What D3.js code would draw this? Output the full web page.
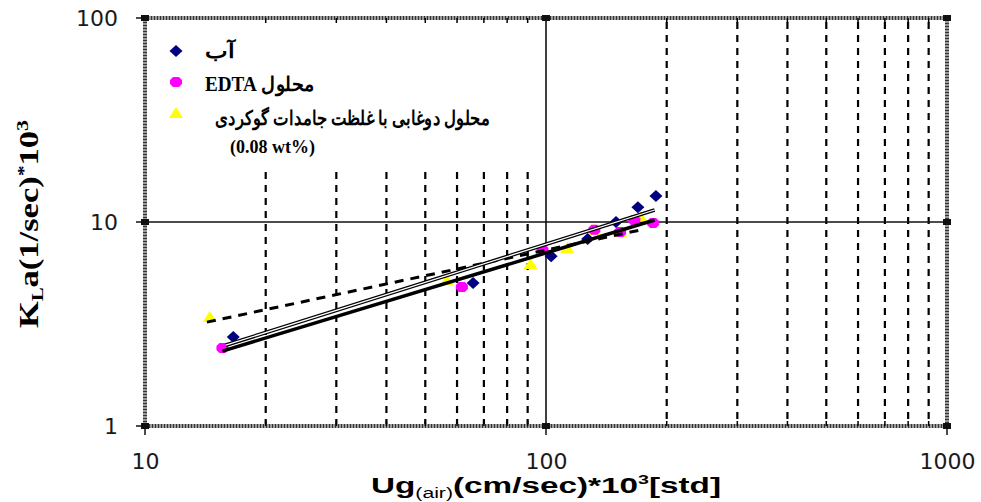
<!DOCTYPE html>
<html>
<head>
<meta charset="utf-8">
<script src="https://cdn.jsdelivr.net/npm/d3@7"></script>
<style>
  html, body { margin: 0; padding: 0; background: #fff; }
  svg { display: block; }
</style>
</head>
<body>
<svg id="chart" width="981" height="502"></svg>
<script>
// Volumetric mass-transfer coefficient vs. superficial gas velocity
const waterX  = [16.6, 65.8, 103, 127, 149.5, 169.5, 188];
const waterY  = [2.73, 5.02, 6.8, 8.26, 10.0, 11.8, 13.4];
const edtaX   = [15.6, 61.7, 98, 132, 153, 166, 185];
const edtaY   = [2.41, 4.8, 7.3, 9.15, 8.93, 10.2, 9.9];
const slurryX = [14.5, 56.6, 91.5, 113, 132, 153, 172];
const slurryY = [3.42, 5.2, 6.22, 7.46, 9.1, 8.9, 10.6];

// power-law trend lines (end points)
const waterTrendX  = [15.9, 186.6];
const waterTrendY  = [2.49, 11.45];
const edtaTrendX   = [15.6, 186.6];
const edtaTrendY   = [2.33, 10.23];
const slurryTrendX = [14.27, 172];
const slurryTrendY = [3.23, 9.14];

const xTicks = [10, 100, 1000];
const yTicks = [1, 10, 100];
const xMinor = [20, 30, 40, 50, 60, 70, 80, 90, 200, 300, 400, 500, 600, 700, 800, 900];

const legendLabels = ["آب", "محلول EDTA", "محلول دوغابی با غلظت جامدات گوکردی"];
const legendNote = "(0.08 wt%)";

const svg = d3.select("#chart");
const L = 145, R = 947, T = 18, B = 426;
const x = d3.scaleLog().domain([10, 1000]).range([L, R]);
const y = d3.scaleLog().domain([1, 100]).range([B, T]);
const legendBottom = 172;
const legendRight = 540;

// minor vertical dashed grid
svg.append("g").selectAll("line").data(xMinor).join("line")
  .attr("x1", d => x(d)).attr("x2", d => x(d))
  .attr("y1", d => (x(d) < legendRight ? legendBottom : T + 4))
  .attr("y2", B)
  .attr("stroke", "#000").attr("stroke-width", 2.2)
  .attr("stroke-dasharray", "7,6");

// major grid lines
svg.append("line").attr("x1", x(100)).attr("x2", x(100)).attr("y1", T).attr("y2", B)
  .attr("stroke", "#111").attr("stroke-width", 1.6);
svg.append("line").attr("x1", L).attr("x2", R).attr("y1", y(10)).attr("y2", y(10))
  .attr("stroke", "#111").attr("stroke-width", 1.6);

// plot frame
svg.append("rect").attr("x", L).attr("y", T).attr("width", R - L).attr("height", B - T)
  .attr("fill", "none").attr("stroke", "#9a9a9a").attr("stroke-width", 4);
svg.append("rect").attr("x", L).attr("y", T).attr("width", R - L).attr("height", B - T)
  .attr("fill", "none").attr("stroke", "#333").attr("stroke-width", 4)
  .attr("stroke-dasharray", "1,2");

// small ticks on top / bottom frame
const tk = svg.append("g");
tk.selectAll(".tt").data(xMinor).join("line")
  .attr("x1", d => x(d)).attr("x2", d => x(d)).attr("y1", T).attr("y2", T + 5)
  .attr("stroke", "#000").attr("stroke-width", 1.5);
tk.selectAll(".bt").data(xMinor).join("line").attr("class", "bt")
  .attr("x1", d => x(d)).attr("x2", d => x(d)).attr("y1", B - 5).attr("y2", B)
  .attr("stroke", "#000").attr("stroke-width", 1.5);

// corner / major tick blocks
const blocks = [];
xTicks.forEach(v => { blocks.push([x(v), T]); blocks.push([x(v), B]); });
yTicks.forEach(v => { blocks.push([L, y(v)]); blocks.push([R, y(v)]); });
svg.append("g").selectAll("rect").data(blocks).join("rect")
  .attr("x", d => d[0] - 4).attr("y", d => d[1] - 3)
  .attr("width", 8).attr("height", 6).attr("fill", "#111");
svg.append("g").selectAll("line").data(xTicks).join("line")
  .attr("x1", d => x(d)).attr("x2", d => x(d)).attr("y1", B).attr("y2", B + 9)
  .attr("stroke", "#111").attr("stroke-width", 1.5);
svg.append("g").selectAll("line").data(yTicks).join("line")
  .attr("x1", L - 9).attr("x2", L).attr("y1", d => y(d)).attr("y2", d => y(d))
  .attr("stroke", "#111").attr("stroke-width", 1.5);

// axes tick labels
const fmt = d3.format("d");
const xAxis = svg.append("g").attr("transform", `translate(0,${B})`)
  .call(d3.axisBottom(x).tickValues(xTicks).tickFormat(fmt).tickSize(0).tickPadding(27));
const yAxis = svg.append("g").attr("transform", `translate(${L},0)`)
  .call(d3.axisLeft(y).tickValues(yTicks).tickFormat(fmt).tickSize(0).tickPadding(27));
[xAxis, yAxis].forEach(g => {
  g.select(".domain").remove();
  g.selectAll("text").attr("font-family", "DejaVu Sans").attr("font-size", 22)
    .attr("fill", "#1a1a1a");
});

// marker shapes
const diamond = "M0,-6L6.5,0L0,6L-6.5,0Z";
const tri = "M0,-6L7,5L-7,5Z";
const blob = "M-3,-5L3,-5L6,-2L6,2L3,5L-3,5L-6,2L-6,-2Z";
const pts = (xs, ys) => xs.map((v, i) => [v, ys[i]]);

svg.append("g").selectAll("path").data(pts(slurryX, slurryY)).join("path")
  .attr("d", tri).attr("transform", d => `translate(${x(d[0])},${y(d[1])})`)
  .attr("fill", "#ffff00");
svg.append("g").selectAll("path").data(pts(edtaX, edtaY)).join("path")
  .attr("d", blob).attr("transform", d => `translate(${x(d[0])},${y(d[1])})`)
  .attr("fill", "#ff00ff");
svg.append("g").selectAll("path").data(pts(waterX, waterY)).join("path")
  .attr("d", diamond).attr("transform", d => `translate(${x(d[0])},${y(d[1])})`)
  .attr("fill", "#000080");

// trend lines
const line = d3.line().x(d => x(d[0])).y(d => y(d[1]));
svg.append("path").datum(pts(slurryTrendX, slurryTrendY)).attr("d", line)
  .attr("fill", "none").attr("stroke", "#000").attr("stroke-width", 3)
  .attr("stroke-dasharray", "9,7");
svg.append("path").datum(pts(edtaTrendX, edtaTrendY)).attr("d", line)
  .attr("fill", "none").attr("stroke", "#000").attr("stroke-width", 3.5);
svg.append("path").datum(pts(waterTrendX, waterTrendY)).attr("d", line)
  .attr("fill", "none").attr("stroke", "#000").attr("stroke-width", 3.8);
svg.append("path").datum(pts(waterTrendX, waterTrendY)).attr("d", line)
  .attr("fill", "none").attr("stroke", "#fff").attr("stroke-width", 1.3);

// legend
const lg = svg.append("g");
const legendMarkY = [51, 82, 113];
lg.append("path").attr("d", diamond).attr("transform", `translate(176,${legendMarkY[0]})`).attr("fill", "#000080");
lg.append("path").attr("d", blob).attr("transform", `translate(176,${legendMarkY[1]})`).attr("fill", "#ff00ff");
lg.append("path").attr("d", tri).attr("transform", `translate(176,${legendMarkY[2]})`).attr("fill", "#ffff00");
const legendTextX = [205, 205, 215];
const legendTextY = [58, 91, 125];
const legendTextW = [30, 110, 275];
legendLabels.forEach((t, i) => {
  lg.append("text").text(t)
    .attr("x", legendTextX[i]).attr("y", legendTextY[i])
    .attr("direction", "rtl").style("direction", "rtl").style("unicode-bidi", "embed")
    .attr("text-anchor", "end")
    .attr("font-family", "Liberation Serif, DejaVu Serif, serif").attr("font-weight", "bold")
    .attr("font-size", 20).attr("fill", "#000")
    .attr("textLength", legendTextW[i]).attr("lengthAdjust", "spacingAndGlyphs");
});
lg.append("text").text(legendNote).attr("x", 230).attr("y", 153)
  .attr("font-family", "Liberation Serif").attr("font-weight", "bold")
  .attr("font-size", 18).attr("fill", "#000");

// axis titles
const xt = svg.append("text").attr("x", 546).attr("y", 493).attr("text-anchor", "middle")
  .attr("font-family", "Liberation Sans, Arial").attr("font-weight", "bold")
  .attr("font-size", 22).attr("fill", "#000")
  .attr("textLength", 350).attr("lengthAdjust", "spacingAndGlyphs");
xt.append("tspan").text("Ug");
xt.append("tspan").text("(air)").attr("font-size", 14).attr("font-weight", "normal").attr("dy", 5);
xt.append("tspan").text("(cm/sec)*10").attr("dy", -5);
xt.append("tspan").text("3").attr("font-size", 13).attr("dy", -9);
xt.append("tspan").text("[std]").attr("dy", 9);

const yt = svg.append("text").attr("transform", "translate(38,224) rotate(-90)")
  .attr("text-anchor", "middle")
  .attr("font-family", "Liberation Serif, Times New Roman").attr("font-weight", "bold")
  .attr("font-size", 27).attr("fill", "#000")
  .attr("textLength", 208).attr("lengthAdjust", "spacingAndGlyphs");
yt.append("tspan").text("K");
yt.append("tspan").text("L").attr("font-size", 16).attr("dy", 5);
yt.append("tspan").text("a(1/sec)").attr("dy", -5);
yt.append("tspan").text("*").attr("font-size", 17).attr("dy", -9);
yt.append("tspan").text("10").attr("dy", 9);
yt.append("tspan").text("3").attr("font-size", 17).attr("dy", -10);
</script>
</body>
</html>
